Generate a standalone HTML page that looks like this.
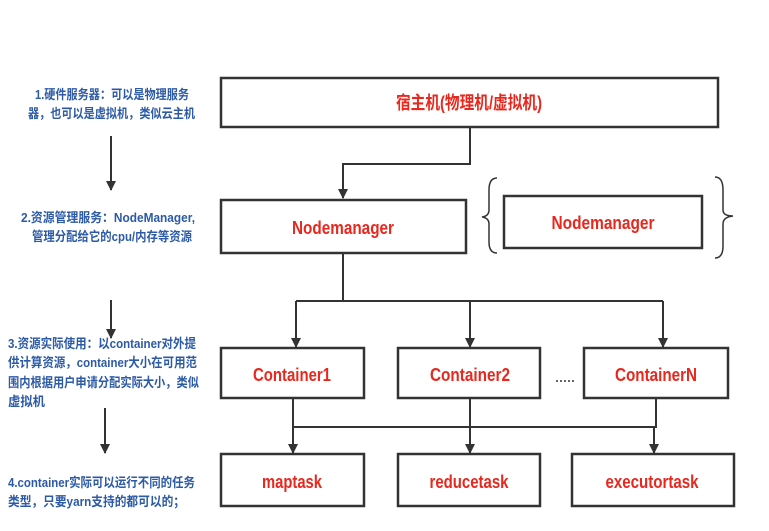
<!DOCTYPE html>
<html><head><meta charset="utf-8"><style>
html,body{margin:0;padding:0;background:#fff;}
svg{display:block;}
.r{font-family:"Liberation Sans","Noto Sans CJK SC",sans-serif;font-weight:bold;font-size:18px;fill:#e8281e;text-anchor:middle;}
.b{font-family:"Liberation Sans","Noto Sans CJK SC",sans-serif;font-weight:bold;font-size:13px;fill:#2c5aa6;}
</style></head><body>
<svg width="769" height="531" viewBox="0 0 769 531" xmlns="http://www.w3.org/2000/svg">
<defs><marker id="a" markerWidth="10" markerHeight="14" refX="9" refY="5" orient="auto" markerUnits="userSpaceOnUse"><path d="M0,0 L10,5 L0,10 z" fill="#333"/></marker></defs>
<g fill="#fff" stroke="#333" stroke-width="2.5">
<rect x="221" y="78" width="497" height="49"/>
<rect x="221" y="200" width="245" height="53"/>
<rect x="504" y="196" width="198" height="52"/>
<rect x="221" y="348" width="143" height="50"/>
<rect x="398" y="348" width="142" height="50"/>
<rect x="584" y="348" width="144" height="50"/>
<rect x="221" y="454" width="143" height="52"/>
<rect x="398" y="454" width="142" height="52"/>
<rect x="572" y="454" width="162" height="52"/>
</g>
<g fill="none" stroke="#333" stroke-width="2">
<path d="M470 127 V164 H343 V198" marker-end="url(#a)"/>
<path d="M343 253 V301"/>
<path d="M296 301 H663"/>
<path d="M296 301 V347" marker-end="url(#a)"/>
<path d="M470 301 V347" marker-end="url(#a)"/>
<path d="M663 301 V347" marker-end="url(#a)"/>
<path d="M293 398 V427 H656 V398"/>
<path d="M470 398 V453" marker-end="url(#a)"/>
<path d="M293 427 V453" marker-end="url(#a)"/>
<path d="M654 427 V453" marker-end="url(#a)"/>
<path d="M111 136 V190" marker-end="url(#a)"/>
<path d="M111 300 V338" marker-end="url(#a)"/>
<path d="M105 408 V453" marker-end="url(#a)"/>
<path d="M497 178 Q489 178 489 190 V210 Q489 216 482 217 Q489 218 489 224 V242 Q489 253 497 253" stroke-width="1.5"/>
<path d="M715 177 Q723 177 723 190 V210 Q723 216 733 216 Q723 217 723 224 V246 Q723 258 715 258" stroke-width="1.5"/>
</g>
<g fill="#333"><circle cx="557" cy="381" r="1"/><circle cx="561" cy="381" r="1"/><circle cx="565" cy="381" r="1"/><circle cx="569" cy="381" r="1"/><circle cx="573" cy="381" r="1"/></g>
<text class="r" x="469" y="109" textLength="146" lengthAdjust="spacingAndGlyphs">宿主机(物理机/虚拟机)</text>
<text class="r" x="343" y="234" textLength="102" lengthAdjust="spacingAndGlyphs">Nodemanager</text>
<text class="r" x="603" y="229" textLength="103" lengthAdjust="spacingAndGlyphs">Nodemanager</text>
<text class="r" x="292" y="381" textLength="78" lengthAdjust="spacingAndGlyphs">Container1</text>
<text class="r" x="470" y="381" textLength="80" lengthAdjust="spacingAndGlyphs">Container2</text>
<text class="r" x="656" y="381" textLength="82" lengthAdjust="spacingAndGlyphs">ContainerN</text>
<text class="r" x="292" y="488" textLength="60" lengthAdjust="spacingAndGlyphs">maptask</text>
<text class="r" x="469" y="488" textLength="79" lengthAdjust="spacingAndGlyphs">reducetask</text>
<text class="r" x="652" y="488" textLength="93" lengthAdjust="spacingAndGlyphs">executortask</text>
<text class="b" x="35" y="99" textLength="154" lengthAdjust="spacingAndGlyphs">1.硬件服务器：可以是物理服务</text>
<text class="b" x="28" y="118" textLength="167" lengthAdjust="spacingAndGlyphs">器，也可以是虚拟机，类似云主机</text>
<text class="b" x="21" y="222" textLength="174" lengthAdjust="spacingAndGlyphs">2.资源管理服务：NodeManager,</text>
<text class="b" x="32" y="241" textLength="160" lengthAdjust="spacingAndGlyphs">管理分配给它的cpu/内存等资源</text>
<text class="b" x="8" y="348" textLength="188" lengthAdjust="spacingAndGlyphs">3.资源实际使用：以container对外提</text>
<text class="b" x="8" y="367" textLength="189" lengthAdjust="spacingAndGlyphs">供计算资源，container大小在可用范</text>
<text class="b" x="8" y="387" textLength="191" lengthAdjust="spacingAndGlyphs">围内根据用户申请分配实际大小，类似</text>
<text class="b" x="8" y="406" textLength="37" lengthAdjust="spacingAndGlyphs">虚拟机</text>
<text class="b" x="8" y="487" textLength="187" lengthAdjust="spacingAndGlyphs">4.container实际可以运行不同的任务</text>
<text class="b" x="8" y="506" textLength="177" lengthAdjust="spacingAndGlyphs">类型，只要yarn支持的都可以的；</text>
</svg>
</body></html>
